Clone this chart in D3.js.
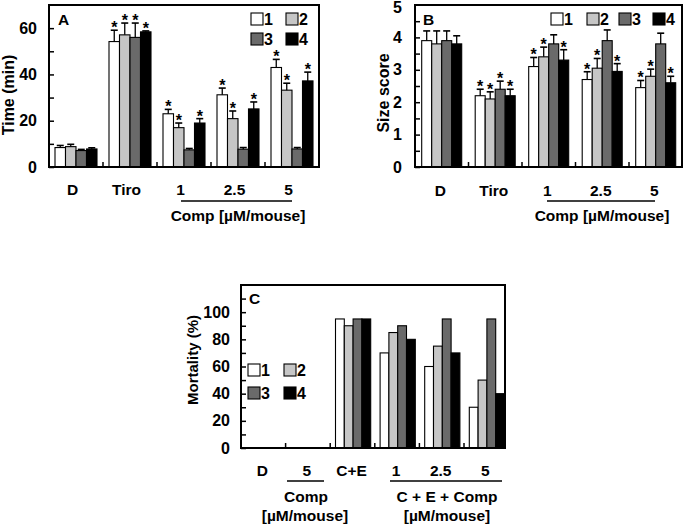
<!DOCTYPE html>
<html><head><meta charset="utf-8">
<script src="https://cdn.jsdelivr.net/npm/d3@7"></script>
<style>
body{margin:0;background:#fff}
svg{display:block}
text{font-family:"Liberation Sans",Arial,sans-serif;font-weight:bold;fill:#000}
</style>
</head><body>
<svg id="chart" width="685" height="525"></svg>
<script>
// ---------- data ----------
const seriesKeys = ["1", "2", "3", "4"];
const seriesFill = ["#ffffff", "#c6c6c6", "#6a6a6a", "#000000"];

// Panel A: Time (min)
const timeCategories = ["D", "Tiro", "1", "2.5", "5"];
const timeMean = [
  [8.4, 54.2, 23.0, 31.2, 43.0],
  [8.8, 57.1, 17.0, 20.9, 33.2],
  [7.1, 56.0, 7.4, 7.7, 7.8],
  [7.8, 58.4, 19.0, 25.1, 37.2]
];
const timeErr = [
  [0.9, 4.9, 1.9, 2.9, 3.5],
  [1.0, 5.1, 2.0, 3.3, 3.0],
  [0.5, 6.2, 0.6, 0.7, 0.6],
  [0.5, 0.4, 1.9, 3.0, 3.8]
];
const timeSig = [
  [0, 1, 1, 1, 1],
  [0, 1, 1, 1, 1],
  [0, 1, 0, 0, 0],
  [0, 1, 1, 1, 1]
];
const timeTicks = [0, 10, 20, 30, 40, 50, 60];
const timeTickLabels = [0, 20, 40, 60];

// Panel B: Size score
const sizeCategories = ["D", "Tiro", "1", "2.5", "5"];
const sizeMean = [
  [3.9, 2.2, 3.1, 2.7, 2.45],
  [3.8, 2.1, 3.4, 3.05, 2.8],
  [3.9, 2.4, 3.8, 3.9, 3.8],
  [3.8, 2.2, 3.3, 2.95, 2.6]
];
const sizeErr = [
  [0.3, 0.2, 0.28, 0.24, 0.22],
  [0.4, 0.22, 0.3, 0.3, 0.22],
  [0.3, 0.25, 0.28, 0.33, 0.33],
  [0.25, 0.2, 0.32, 0.24, 0.2]
];
const sizeSig = [
  [0, 1, 1, 1, 1],
  [0, 1, 1, 1, 1],
  [0, 1, 0, 0, 0],
  [0, 1, 1, 1, 1]
];
const sizeTicks = [0, 0.5, 1, 1.5, 2, 2.5, 3, 3.5, 4, 4.5];
const sizeTickLabels = [0, 1, 2, 3, 4, 5];

// Panel C: Mortality (%)
const mortCategories = ["D", "5", "C+E", "1", "2.5", "5"];
const mortValues = [
  [0, 0, 95, 70, 60, 30],
  [0, 0, 90, 85, 75, 50],
  [0, 0, 95, 90, 95, 95],
  [0, 0, 95, 80, 70, 40]
];
const mortTicks = [0, 10, 20, 30, 40, 50, 60, 70, 80, 90, 100, 110];
const mortTickLabels = [0, 20, 40, 60, 80, 100];

// ---------- drawing ----------
const svg = d3.select("#chart");

function panel(cfg) {
  const g = svg.append("g");
  const n = cfg.categories.length;
  const y = d3.scaleLinear().domain([0, cfg.ymax]).range([cfg.bottom, cfg.top]);
  const x0 = d3.scaleBand().domain(d3.range(n)).range([cfg.left, cfg.left + n * cfg.gw]).padding(0);
  const x1 = d3.scaleBand().domain(seriesKeys).range([cfg.pad, cfg.pad + 4 * cfg.bw]).padding(0);

  // bars
  seriesKeys.forEach((s, si) => {
    cfg.means[si].forEach((v, ci) => {
      if (v <= 0) return;
      const bx = x0(ci) + x1(s);
      g.append("rect")
        .attr("x", bx).attr("y", y(v))
        .attr("width", x1.bandwidth()).attr("height", y(0) - y(v))
        .attr("fill", seriesFill[si]).attr("stroke", "#000").attr("stroke-width", 1.1);
      if (cfg.errs) {
        const e = cfg.errs[si][ci];
        const cx = bx + x1.bandwidth() / 2;
        const yt = y(v + e);
        g.append("line").attr("x1", cx).attr("x2", cx).attr("y1", y(v)).attr("y2", yt)
          .attr("stroke", "#000").attr("stroke-width", 1.3);
        g.append("line").attr("x1", cx - 3.5).attr("x2", cx + 3.5).attr("y1", yt).attr("y2", yt)
          .attr("stroke", "#000").attr("stroke-width", 1.6);
        if (cfg.sigs && cfg.sigs[si][ci]) {
          g.append("text").attr("x", cx).attr("y", yt + 3)
            .attr("text-anchor", "middle").style("font-size", "16px").text("*");
        }
      }
    });
  });

  // y axis (inward ticks)
  const ax = g.append("g").attr("transform", `translate(${cfg.left},0)`)
    .call(d3.axisLeft(y).tickValues(cfg.ticks).tickSize(-5).tickPadding(cfg.tickPad)
      .tickFormat(d => cfg.tickLabels.includes(d) ? d : ""));
  ax.select(".domain").remove();
  ax.selectAll(".tick line").attr("stroke", "#000").attr("stroke-width", 1.5);
  ax.selectAll(".tick text").style("font-size", cfg.tickFont + "px")
    .style("font-family", '"Liberation Sans",Arial,sans-serif').style("font-weight", "bold");
  // label at the top edge (no tick there; the frame is the tick)
  cfg.tickLabels.filter(d => !cfg.ticks.includes(d)).forEach(d => {
    g.append("text").attr("x", cfg.left - cfg.tickPad).attr("y", y(d) + 2.5).attr("dy", "0.32em")
      .attr("text-anchor", "end").style("font-size", cfg.tickFont + "px").text(d);
  });

  // group separators on bottom axis
  for (let i = 1; i < n; i++) {
    g.append("line").attr("x1", x0(i)).attr("x2", x0(i))
      .attr("y1", cfg.bottom).attr("y2", cfg.bottom - 5)
      .attr("stroke", "#000").attr("stroke-width", 1.5);
  }

  // frame
  g.append("rect").attr("x", cfg.left).attr("y", cfg.top)
    .attr("width", cfg.right - cfg.left).attr("height", cfg.bottom - cfg.top)
    .attr("fill", "none").attr("stroke", "#000").attr("stroke-width", 2);

  // category labels
  cfg.categories.forEach((c, i) => {
    g.append("text").attr("x", x0(i) + cfg.gw / 2 + cfg.catDx).attr("y", cfg.catY)
      .attr("text-anchor", "middle").style("font-size", "15.5px").text(c);
  });

  // panel letter
  g.append("text").attr("x", cfg.letterX).attr("y", cfg.letterY).style("font-size", "15.5px").text(cfg.letter);

  // y title
  g.append("text").attr("transform", `translate(${cfg.titleX},${cfg.titleY}) rotate(-90)`)
    .attr("text-anchor", "middle").attr("dy", "0.35em").style("font-size", cfg.titleFont + "px").text(cfg.title);

  // legend
  cfg.legend.forEach((p, i) => {
    g.append("rect").attr("x", p[0]).attr("y", p[1]).attr("width", 12).attr("height", 12)
      .attr("fill", seriesFill[i]).attr("stroke", "#000").attr("stroke-width", 1.1);
    g.append("text").attr("x", p[0] + 13).attr("y", p[1] + 12).style("font-size", "16px").text(seriesKeys[i]);
  });
  return { g, x0 };
}

// Panel A
const pA = panel({
  left: 49, right: 319, top: 5, bottom: 167, ymax: 70, gw: 54, pad: 6, bw: 10.5,
  categories: timeCategories, means: timeMean, errs: timeErr, sigs: timeSig,
  ticks: timeTicks, tickLabels: timeTickLabels, tickPad: 12, tickFont: 16,
  catY: 195, catDx: -3.5, letter: "A", letterX: 58, letterY: 25,
  title: "Time (min)", titleX: 8, titleY: 95, titleFont: 16,
  legend: [[251, 13], [286, 13], [251, 33], [286, 33]]
});
pA.g.append("line").attr("x1", 181).attr("x2", 292).attr("y1", 201).attr("y2", 201)
  .attr("stroke", "#000").attr("stroke-width", 1.5);
pA.g.append("text").attr("x", 238).attr("y", 221).attr("text-anchor", "middle")
  .style("font-size", "15.5px").text("Comp [\u00b5M/mouse]");

// Panel B
const pB = panel({
  left: 415, right: 682, top: 5, bottom: 167, ymax: 5, gw: 53.5, pad: 6.7, bw: 10,
  categories: sizeCategories, means: sizeMean, errs: sizeErr, sigs: sizeSig,
  ticks: sizeTicks, tickLabels: sizeTickLabels, tickPad: 13, tickFont: 16,
  catY: 196, catDx: -1.5, letter: "B", letterX: 423, letterY: 25,
  title: "Size score", titleX: 383, titleY: 93, titleFont: 16,
  legend: [[551, 13], [587, 13], [619, 13], [653, 13]]
});
pB.g.append("line").attr("x1", 547).attr("x2", 655).attr("y1", 201).attr("y2", 201)
  .attr("stroke", "#000").attr("stroke-width", 1.5);
pB.g.append("text").attr("x", 602).attr("y", 221).attr("text-anchor", "middle")
  .style("font-size", "15.5px").text("Comp [\u00b5M/mouse]");

// Panel C
const pC = panel({
  left: 241, right: 505, top: 285, bottom: 448, ymax: 120, gw: 44.6, pad: 5.3, bw: 8.8,
  categories: mortCategories, means: mortValues, errs: null, sigs: null,
  ticks: mortTicks, tickLabels: mortTickLabels, tickPad: 11, tickFont: 16,
  catY: 476, catDx: -1, letter: "C", letterX: 249, letterY: 304,
  title: "Mortality (%)", titleX: 193, titleY: 360, titleFont: 15,
  legend: [[248, 364], [284, 364], [248, 387], [284, 387]]
});
pC.g.append("line").attr("x1", 287).attr("x2", 324).attr("y1", 481).attr("y2", 481)
  .attr("stroke", "#000").attr("stroke-width", 1.5);
pC.g.append("line").attr("x1", 390).attr("x2", 502).attr("y1", 481).attr("y2", 481)
  .attr("stroke", "#000").attr("stroke-width", 1.5);
pC.g.append("text").attr("x", 306).attr("y", 502).attr("text-anchor", "middle")
  .style("font-size", "15.5px").text("Comp");
pC.g.append("text").attr("x", 305).attr("y", 521).attr("text-anchor", "middle")
  .style("font-size", "15.5px").text("[\u00b5M/mouse]");
pC.g.append("text").attr("x", 447).attr("y", 502).attr("text-anchor", "middle")
  .style("font-size", "15.5px").text("C + E + Comp");
pC.g.append("text").attr("x", 447).attr("y", 521).attr("text-anchor", "middle")
  .style("font-size", "15.5px").text("[\u00b5M/mouse]");
</script>
</body></html>
